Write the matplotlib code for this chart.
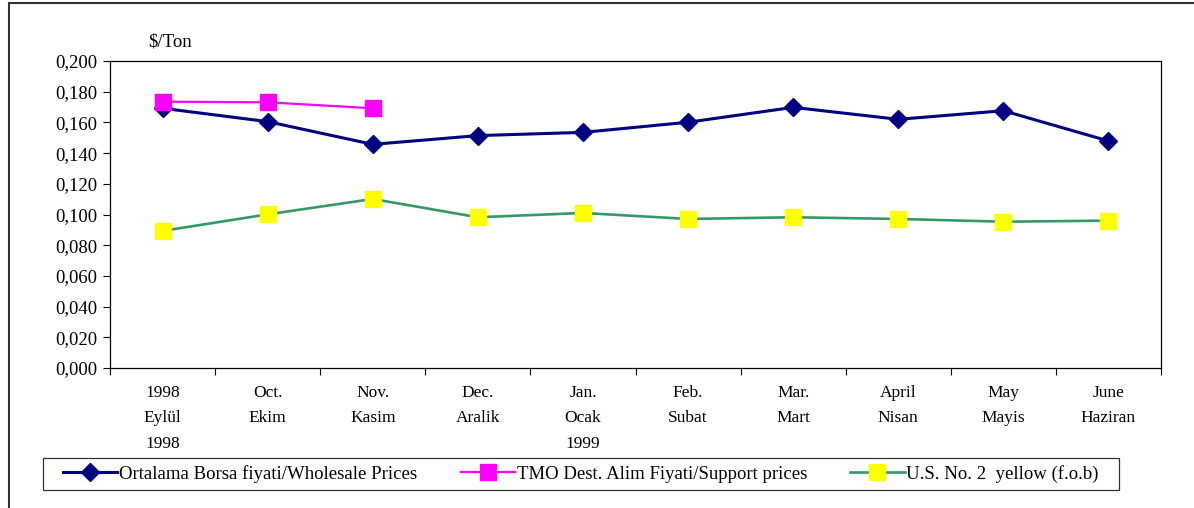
import numpy as np
import matplotlib
matplotlib.use("Agg")
import matplotlib.pyplot as plt
from matplotlib.patches import Rectangle
from matplotlib.path import Path
from matplotlib.ticker import FuncFormatter, FixedLocator

plt.rcParams['font.family'] = ['Liberation Serif', 'DejaVu Serif']

# month labels (English / Turkish / year)
months = ["1998\nEylül\n1998", "Oct.\nEkim", "Nov.\nKasim", "Dec.\nAralik",
          "Jan.\nOcak\n1999", "Feb.\nSubat", "Mar.\nMart", "April\nNisan",
          "May\nMayis", "June\nHaziran"]

wholesale = [0.1692, 0.1605, 0.1457, 0.1514, 0.1535, 0.1601, 0.1698, 0.1620, 0.1676, 0.1479]
support = [0.1735, 0.1731, 0.1692]
us_no2 = [0.0893, 0.1001, 0.1101, 0.0982, 0.1010, 0.0971, 0.0982, 0.0971, 0.0953, 0.0960]

fig = plt.figure(figsize=(11.94, 5.08), dpi=100)
ax = fig.add_axes([110/1194, 1-368/508, 1051/1194, 307/508])

x = np.arange(len(months))
ax.plot(x, wholesale, color='#000080', lw=2.2, marker='D', ms=8.8,
        mec='#000080', mfc='#000080', label='Ortalama Borsa fiyati/Wholesale Prices')
ax.plot(x[:len(support)], support, color='#FF00FF', lw=1.6, marker='s', ms=11,
        mec='#FF00FF', mfc='#FF00FF', label='TMO Dest. Alim Fiyati/Support prices')
ax.plot(x, us_no2, color='#339966', lw=1.9, marker='s', ms=11,
        mec='#FFFF00', mfc='#FFFF00', label='U.S. No. 2  yellow (f.o.b)')

ax.set_xlim(-0.5, len(months)-0.5)
ax.set_ylim(0, 0.2)
ax.set_yticks(np.arange(0, 0.2001, 0.02))
ax.yaxis.set_major_formatter(FuncFormatter(lambda v, p: f"{v:.3f}".replace('.', ',')))
ax.set_xticks(x)
ax.set_xticklabels(months, fontsize=12.5, linespacing=1.8)
ax.xaxis.set_minor_locator(FixedLocator(np.arange(-0.5, len(months), 1)))
ax.tick_params(axis='x', which='major', length=0, pad=12)
ax.tick_params(axis='x', which='minor', length=5, width=0.8, direction='out')
ax.tick_params(axis='y', length=5, width=0.8, direction='out', labelsize=13.5, pad=4)
for s in ax.spines.values():
    s.set_linewidth(0.9)

fig.text(148/1194, 1-42/508, "$/Ton", fontsize=13.5, va='center', ha='left')

leg = fig.legend(loc='center', bbox_to_anchor=(581/1194, 1-474/508), ncol=3,
                 fontsize=13.5, frameon=True, fancybox=False, edgecolor='black',
                 handlelength=2.9, columnspacing=2.3, handletextpad=0.1,
                 borderpad=0.36, numpoints=1)
leg.get_frame().set_linewidth(0.9)


# legend frame a bit wider on the sides than on top/bottom (excel style)
def wide_box(x0, y0, width, height, mutation_size):
    dx = 0.73 * mutation_size
    return Path([(x0 - dx, y0), (x0 + width + dx, y0), (x0 + width + dx, y0 + height),
                 (x0 - dx, y0 + height), (x0 - dx, y0)], closed=True)


leg.legendPatch.set_boxstyle(wide_box)

# outer chart border (top and left visible)
fig.patches.append(Rectangle((9/1194, -0.2), 1.2, 1.2 - 3/508, transform=fig.transFigure,
                             fill=False, edgecolor='#333333', lw=1.5))

fig.savefig("out.png", dpi=100)
